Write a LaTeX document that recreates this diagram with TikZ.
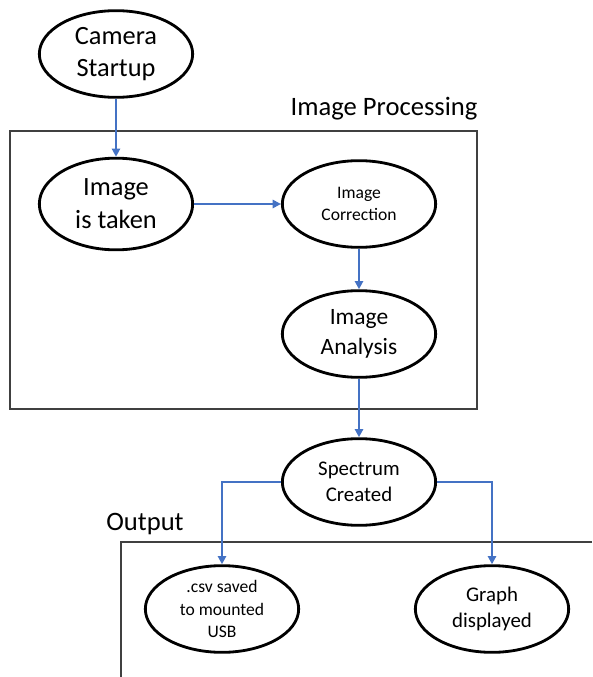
\documentclass[tikz,border=0pt]{standalone}
\usepackage{fontspec}
\setmainfont{Carlito}
\usetikzlibrary{shapes.geometric,arrows.meta}

\definecolor{flowblue}{HTML}{4472C4}

\begin{document}
\begin{tikzpicture}[x=0.03cm,y=-0.03cm,
  proc/.style={draw,ellipse,line width=2.4pt,minimum width=4.6cm,minimum height=2.6cm,inner sep=0pt,align=center},
  big/.style={font=\fontsize{22.5}{28}\selectfont},
  mid/.style={font=\fontsize{17.8}{22}\selectfont},
  small/.style={font=\fontsize{15}{19}\selectfont},
  flow/.style={draw=flowblue,line width=1.8pt,-{Triangle[length=7pt,width=7pt]}},
  frame/.style={draw=black!75,line width=1pt}]
\useasboundingbox (0,0) rectangle (592,677);

% groups
\draw[frame] (10,131) rectangle (477,409);
\draw[frame] (592,542) -| (121,677);
\node[font=\fontsize{22.7}{27}\selectfont] (lblproc) at (384,109) {Image Processing};
\node[font=\fontsize{22.7}{27}\selectfont] (lblout) at (145,524) {Output};

% steps
\node[proc,big] (start) at (116,54) {Camera\\Startup};
\node[proc,big,minimum height=2.75cm] (taken) at (116,204) {Image\\is taken};
\node[proc,small] (corr) at (359,204) {Image\\Correction};
\node[proc,font=\fontsize{20}{25}\selectfont] (anal) at (359,334) {Image\\Analysis};
\node[proc,mid] (spec) at (359,482) {Spectrum\\Created};
\node[proc,small] (csv) at (222,609) {.csv saved\\to mounted\\USB};
\node[proc,mid] (graph) at (492,609) {Graph\\displayed};

\draw[flow] (start) -- (taken);
\draw[flow] (taken) -- (corr);
\draw[flow] (corr) -- (anal);
\draw[flow] (anal) -- (spec);
\draw[flow] (spec.west) -| (csv);
\draw[flow] (spec.east) -| (graph);
\end{tikzpicture}
\end{document}
